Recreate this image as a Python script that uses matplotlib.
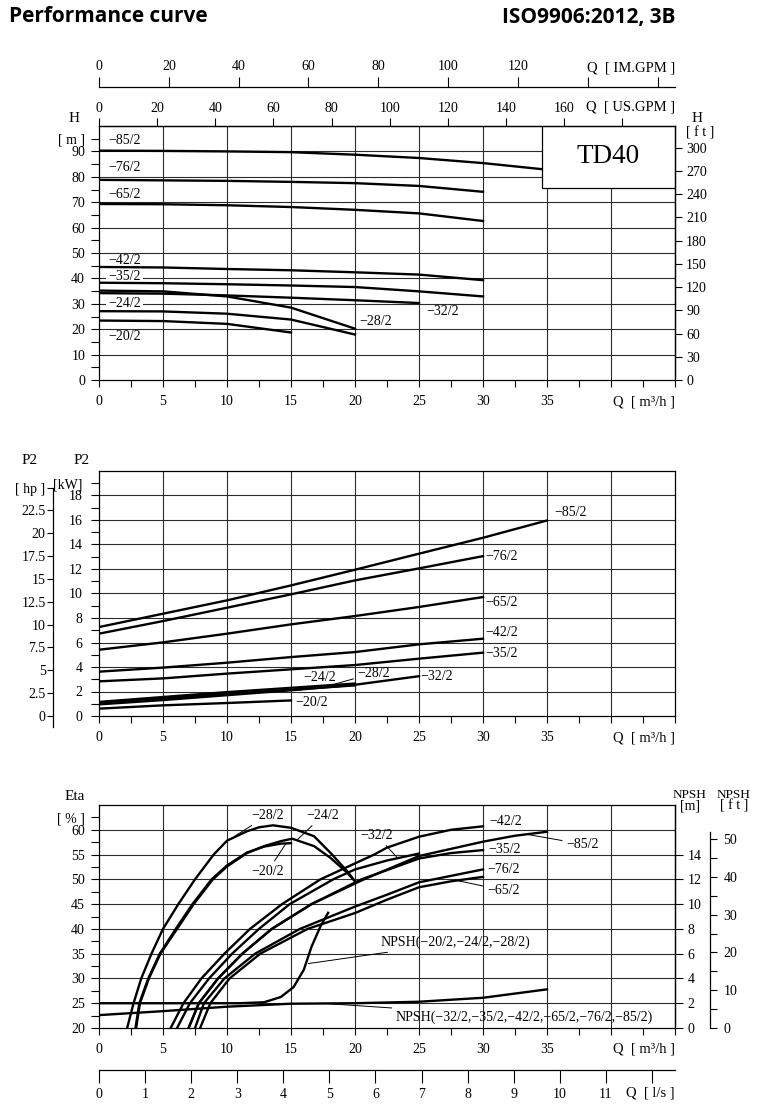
import matplotlib.pyplot as plt
from matplotlib.patches import Rectangle

plt.rcParams['font.family'] = ['Liberation Serif', 'DejaVu Serif']
plt.rcParams['font.size'] = 10
plt.rcParams['xtick.labelsize'] = 10
plt.rcParams['ytick.labelsize'] = 10

# ---------------- values ----------------
q_pts = [0, 5, 10, 15, 20, 25, 30, 35]          # Q [m3/h]

# head H [m]
h_85 = [90.3, 90.2, 90.0, 89.7, 88.7, 87.4, 85.4, 82.8]
h_76 = [78.8, 78.6, 78.4, 78.0, 77.5, 76.4, 74.1]
h_65 = [69.3, 69.2, 68.8, 68.1, 67.0, 65.6, 62.6]
h_42 = [44.5, 44.3, 43.7, 43.2, 42.4, 41.5, 39.3]
h_35 = [38.3, 38.1, 37.7, 37.2, 36.6, 34.9, 32.9]
h_32 = [34.2, 34.0, 33.3, 32.4, 31.4, 30.3]
h_28 = [35.2, 34.9, 32.9, 28.5, 20.2]
h_24 = [27.1, 27.0, 26.1, 23.8, 17.9]
h_20 = [23.4, 23.2, 22.1, 18.7]

# power P2 [kW]
p_85 = [7.26, 8.35, 9.44, 10.66, 11.94, 13.25, 14.55, 15.96]
p_76 = [6.72, 7.75, 8.84, 9.93, 11.07, 12.05, 13.05]
p_65 = [5.41, 6.01, 6.72, 7.48, 8.16, 8.90, 9.71]
p_42 = [3.62, 3.95, 4.35, 4.81, 5.22, 5.85, 6.31]
p_35 = [2.83, 3.07, 3.46, 3.81, 4.16, 4.68, 5.17]
p_32 = [0.95, 1.30, 1.70, 2.10, 2.55, 3.25]
p_28 = [1.15, 1.55, 1.95, 2.30, 2.65]
p_24 = [1.10, 1.45, 1.80, 2.15, 2.50]
p_20 = [0.60, 0.87, 1.06, 1.27]

# efficiency Eta [%]
q_e28 = [2.2, 2.7, 3.3, 4.1, 5.0, 6.2, 7.5, 8.96, 10, 11.56, 12.5, 13.6, 15, 16.8, 18.1, 19.4, 20]
e_28 = [20, 25, 30, 35, 40, 45, 50, 55, 57.8, 59.7, 60.5, 60.9, 60.4, 58.7, 55.3, 51.6, 49.6]
q_e24 = [2.9, 3.2, 3.9, 4.8, 6.1, 7.4, 8.9, 10, 11.56, 12.9, 14.2, 15.1, 16.8, 18.1, 19.4, 20]
e_24 = [20, 25, 30, 35, 40, 45, 50, 52.6, 55.3, 56.7, 57.7, 58.2, 56.7, 54.3, 51.3, 49.6]
q_e20 = [2.85, 3.15, 3.85, 4.75, 6.0, 7.3, 8.8, 10, 11.56, 12.9, 14.2, 15]
e_20 = [20, 25, 30, 35, 40, 45, 50, 52.8, 55.4, 56.6, 57.2, 57.3]
q_e42 = [5.6, 6.6, 8.0, 9.8, 11.8, 14.3, 17.3, 21.5, 22.5, 25, 27.5, 30]
e_42 = [20, 25, 30, 35, 40, 45, 50, 55, 56.4, 58.6, 60.0, 60.7]
q_e32 = [6.1, 7.1, 8.6, 10.4, 12.5, 14.9, 18.3, 20, 22.5, 25]
e_32 = [20, 25, 30, 35, 40, 45, 50, 52.0, 53.8, 55.2]
q_e35 = [7.0, 7.8, 9.3, 11.2, 13.5, 16.6, 20.5, 25, 27.5, 30]
e_35 = [20, 25, 30, 35, 40, 45, 50, 54.2, 55.3, 55.9]
q_e85 = [7.0, 7.8, 9.3, 11.2, 13.5, 16.6, 20.7, 25, 30, 32.5, 35]
e_85 = [20, 25, 30, 35, 40, 45, 50, 54.7, 57.6, 58.8, 59.6]
q_e76 = [7.5, 8.2, 9.8, 12.2, 15.7, 20, 22.5, 25, 27.5, 30]
e_76 = [20, 25, 30, 35, 40, 44.5, 46.9, 49.4, 50.7, 52.0]
q_e65 = [7.9, 8.7, 10.2, 12.6, 16.3, 20, 22.5, 25, 27.5, 30]
e_65 = [20, 25, 30, 35, 40, 43.2, 45.9, 48.4, 49.6, 50.5]

# NPSH [m]
q_npsh_small = [0, 11, 12.9, 14.2, 15.2, 16.0, 16.6, 17.3, 17.9]
npsh_small = [2.0, 2.0, 2.08, 2.5, 3.3, 4.7, 6.55, 8.2, 9.3]
q_npsh_large = [0, 5, 10, 15, 20, 25, 30, 35]
npsh_large = [1.04, 1.36, 1.72, 1.96, 2.0, 2.12, 2.44, 3.12]

CURVE = dict(color='black', lw=1.7, zorder=3, solid_joinstyle='round')
GRID = dict(color='#2b2b2b', lw=0.8, zorder=1)
LEAD = dict(arrowstyle='-', lw=0.7, color='black', shrinkA=1, shrinkB=0)
LBL = 10
HEAD_FONT = ['Open Sans', 'Roboto', 'DejaVu Sans']


def rect(left, top, right, bottom):
    return [left / 757, 1 - bottom / 1113, (right - left) / 757, (bottom - top) / 1113]


def fxy(x, y):
    return x / 757, 1 - y / 1113


def style_q(ax, q_offset):
    ax.set_xlim(0, 45)
    ax.set_xticks(range(0, 50, 5))
    ax.set_xticklabels([str(v) for v in range(0, 40, 5)] + ['', ''])
    ax.set_xticks([2.5 + 5 * i for i in range(9)], minor=True)
    ax.tick_params(axis='x', which='both', direction='out', length=5, width=0.8, pad=6)
    for x in range(5, 45, 5):
        ax.axvline(x, **GRID)
    ax.annotate('Q  [ m³/h ]', xy=(1, 0), xycoords='axes fraction', xytext=(0, q_offset),
                textcoords='offset points', ha='right', va='center', fontsize=10.5)
    for s in ax.spines.values():
        s.set_linewidth(0.9)


def only_spine(ax, keep):
    for side, s in ax.spines.items():
        if side != keep:
            s.set_visible(False)
        else:
            s.set_linewidth(0.9)


fig = plt.figure(figsize=(7.57, 11.13), dpi=100)

fig.text(*fxy(9, 17), 'Performance curve', family=HEAD_FONT,
         fontweight='bold', fontsize=15, va='center', ha='left')
fig.text(*fxy(676, 17), 'ISO9906:2012, 3B', family=HEAD_FONT,
         fontweight='bold', fontsize=15, va='center', ha='right')

# ---------------- IM.GPM scale ----------------
ax_im = fig.add_axes(rect(99, 87, 675, 88))
ax_im.patch.set_visible(False)
only_spine(ax_im, 'top')
ax_im.set_yticks([])
ax_im.set_xlim(0, 45 * 3.6662)
ax_im.xaxis.set_ticks_position('top')
ax_im.set_xticks(range(0, 161, 20))
ax_im.set_xticklabels([str(v) for v in range(0, 121, 20)] + ['', ''])
ax_im.tick_params(axis='x', direction='out', length=7, width=0.8, pad=3)
fig.text(*fxy(675, 68), 'Q  [ IM.GPM ]', ha='right', va='center', fontsize=10.5)

# ---------------- head chart ----------------
ax_h = fig.add_axes(rect(99, 126, 675, 380))
style_q(ax_h, -16)
ax_h.set_ylim(0, 100)
ax_h.set_yticks(list(range(0, 100, 10)) + [95])
ax_h.set_yticklabels([str(v) for v in range(0, 100, 10)] + ['[ m ]'])
ax_h.set_yticks(range(5, 90, 10), minor=True)
ax_h.tick_params(axis='y', which='both', direction='out', length=6, width=0.8, pad=4)
for y in range(10, 100, 10):
    ax_h.axhline(y, **GRID)

for h in (h_85, h_76, h_65, h_42, h_35, h_32, h_28, h_24, h_20):
    ax_h.plot(q_pts[:len(h)], h, **CURVE)

for txt, x, y, boxed in [('−85/2', 0.7, 94.4, False), ('−76/2', 0.7, 83.5, False),
                         ('−65/2', 0.7, 72.9, False), ('−42/2', 0.7, 46.9, False),
                         ('−35/2', 0.7, 40.6, True), ('−24/2', 0.7, 30.0, True),
                         ('−20/2', 0.7, 17.1, False), ('−28/2', 20.3, 23.2, False),
                         ('−32/2', 25.6, 26.8, False)]:
    ax_h.text(x, y, txt, fontsize=LBL, va='center', ha='left', zorder=2.5,
              bbox=dict(fc='white', ec='none', pad=1.5) if boxed else None)

ax_h.add_patch(Rectangle((34.6, 75.6), 10.4, 24.4, fc='white', ec='black', lw=0.9, zorder=4))
ax_h.text(39.8, 87.8, 'TD40', fontsize=19.5, ha='center', va='center', zorder=5)

ax_hft = ax_h.twinx()
only_spine(ax_hft, 'right')
ax_hft.set_ylim(0, 100 * 3.2808)
ax_hft.set_yticks(range(0, 301, 30))
ax_hft.tick_params(axis='y', direction='out', length=5, width=0.8, pad=3)

ax_us = ax_h.twiny()
only_spine(ax_us, 'top')
ax_us.set_xlim(0, 45 * 4.4029)
ax_us.set_xticks(range(0, 181, 20))
ax_us.set_xticklabels([str(v) for v in range(0, 161, 20)] + [''])
ax_us.tick_params(axis='x', direction='out', length=6, width=0.8, pad=2)
fig.text(*fxy(675, 107), 'Q  [ US.GPM ]', ha='right', va='center', fontsize=10.5)

fig.text(*fxy(74, 118), 'H', ha='center', va='center', fontsize=11)
fig.text(*fxy(697, 118), 'H', ha='center', va='center', fontsize=11)
fig.text(*fxy(700, 133), '[ f t ]', ha='center', va='center', fontsize=10)

# ---------------- power chart ----------------
ax_p = fig.add_axes(rect(99, 471, 675, 716))
style_q(ax_p, -16)
ax_p.set_ylim(0, 20)
ax_p.set_yticks(list(range(0, 20, 2)) + [19])
ax_p.set_yticklabels([str(v) for v in range(0, 20, 2)] + ['[kW]'])
ax_p.set_yticks(range(1, 18, 2), minor=True)
ax_p.tick_params(axis='y', which='both', direction='out', length=6, width=0.8, pad=6)
for y in range(2, 20, 2):
    ax_p.axhline(y, **GRID)

for p in (p_85, p_76, p_65, p_42, p_35, p_32, p_28, p_24, p_20):
    ax_p.plot(q_pts[:len(p)], p, **CURVE)

for txt, x, y in [('−85/2', 35.6, 16.6), ('−76/2', 30.2, 13.0), ('−65/2', 30.2, 9.3),
                  ('−42/2', 30.2, 6.8), ('−35/2', 30.2, 5.1), ('−32/2', 25.1, 3.2),
                  ('−20/2', 15.3, 1.1)]:
    ax_p.text(x, y, txt, fontsize=LBL, va='center', ha='left')
ax_p.annotate('−28/2', xy=(18.4, 2.6), xytext=(20.2, 3.5), fontsize=LBL,
              va='center', ha='left', arrowprops=LEAD)
ax_p.annotate('−24/2', xy=(15.7, 2.1), xytext=(16.0, 3.15), fontsize=LBL,
              va='center', ha='left', arrowprops=LEAD)

ax_hp = ax_p.twinx()
only_spine(ax_hp, 'left')
ax_hp.set_ylim(0, 20 / 0.7457)
ax_hp.yaxis.set_ticks_position('left')
ax_hp.spines['left'].set_position(('outward', 33))
ax_hp.spines['left'].set_bounds(-1.25, 25)
hp_ticks = [0, 2.5, 5, 7.5, 10, 12.5, 15, 17.5, 20, 22.5, 25]
ax_hp.set_yticks(hp_ticks)
ax_hp.set_yticklabels(['0', '2.5', '5', '7.5', '10', '12.5', '15', '17.5', '20', '22.5', '[ hp ]'])
ax_hp.tick_params(axis='y', direction='out', length=4, width=0.8, pad=1.5)

fig.text(*fxy(82, 461), 'P2', ha='center', va='center', fontsize=11)
fig.text(*fxy(30, 461), 'P2', ha='center', va='center', fontsize=11)

# ---------------- efficiency / NPSH chart ----------------
ax_e = fig.add_axes(rect(99, 805, 675, 1028))
style_q(ax_e, -15)
ax_e.set_ylim(20, 65)
ax_e.set_yticks(list(range(20, 61, 5)) + [62.5])
ax_e.set_yticklabels([str(v) for v in range(20, 61, 5)] + ['[ % ]'])
ax_e.set_yticks([22.5 + 5 * i for i in range(8)], minor=True)
ax_e.tick_params(axis='y', which='both', direction='out', length=6, width=0.8, pad=4)
for y in range(25, 61, 5):
    ax_e.axhline(y, **GRID)

for q, e in ((q_e28, e_28), (q_e24, e_24), (q_e20, e_20), (q_e42, e_42), (q_e32, e_32),
             (q_e35, e_35), (q_e85, e_85), (q_e76, e_76), (q_e65, e_65)):
    ax_e.plot(q, e, **CURVE)

for txt, x, y in [('−42/2', 30.5, 61.6), ('−35/2', 30.4, 56.1), ('−76/2', 30.3, 52.0)]:
    ax_e.text(x, y, txt, fontsize=LBL, va='center', ha='left')
for txt, xy, xt in [('−28/2', (10.6, 58.7), (11.9, 62.9)),
                    ('−24/2', (15.5, 58.0), (16.2, 62.9)),
                    ('−20/2', (14.6, 57.2), (11.9, 51.6)),
                    ('−32/2', (23.3, 54.4), (20.4, 58.9)),
                    ('−65/2', (27.9, 49.8), (30.3, 47.8)),
                    ('−85/2', (33.4, 59.1), (36.5, 57.1))]:
    ax_e.annotate(txt, xy=xy, xytext=xt, fontsize=LBL, va='center', ha='left', arrowprops=LEAD)

ax_n = ax_e.twinx()
only_spine(ax_n, 'right')
ax_n.set_ylim(0, 18)
ax_n.set_yticks(range(0, 15, 2))
ax_n.tick_params(axis='y', direction='out', length=6, width=0.8, pad=3)
ax_n.plot(q_npsh_small, npsh_small, **CURVE)
ax_n.plot(q_npsh_large, npsh_large, **CURVE)
ax_n.annotate('NPSH(−20/2,−24/2,−28/2)', xy=(16.35, 5.2), xytext=(22.0, 6.9),
              fontsize=LBL, va='center', ha='left', arrowprops=LEAD)
ax_n.annotate('NPSH(−32/2,−35/2,−42/2,−65/2,−76/2,−85/2)', xy=(17.9, 1.96), xytext=(23.2, 0.9),
              fontsize=LBL, va='center', ha='left', arrowprops=LEAD)

ax_nft = ax_e.twinx()
only_spine(ax_nft, 'right')
ax_nft.set_ylim(0, 18 * 3.2808)
ax_nft.spines['right'].set_position(('outward', 25))
ax_nft.spines['right'].set_bounds(0, 52)
ax_nft.set_yticks(range(0, 51, 10))
ax_nft.set_yticks(range(5, 50, 10), minor=True)
ax_nft.tick_params(axis='y', which='both', direction='out', length=5, width=0.8, pad=5)

fig.text(*fxy(75, 797), 'Eta', ha='center', va='center', fontsize=11)
fig.text(*fxy(690, 795), 'NPSH', ha='center', va='center', fontsize=9.5)
fig.text(*fxy(690, 806), '[m]', ha='center', va='center', fontsize=10)
fig.text(*fxy(734, 795), 'NPSH', ha='center', va='center', fontsize=9.5)
fig.text(*fxy(734, 806), '[ f t ]', ha='center', va='center', fontsize=10)

# ---------------- l/s scale ----------------
ax_ls = fig.add_axes(rect(99, 1069, 675, 1070))
ax_ls.patch.set_visible(False)
only_spine(ax_ls, 'bottom')
ax_ls.set_yticks([])
ax_ls.set_xlim(0, 45 / 3.6)
ax_ls.set_xticks(range(0, 13))
ax_ls.set_xticklabels([str(v) for v in range(0, 12)] + [''])
ax_ls.tick_params(axis='x', direction='out', length=9, width=0.8, pad=4)
fig.text(*fxy(675, 1093), 'Q  [ l/s ]', ha='right', va='center', fontsize=10.5)

fig.savefig('out.png', dpi=100, facecolor='white')
